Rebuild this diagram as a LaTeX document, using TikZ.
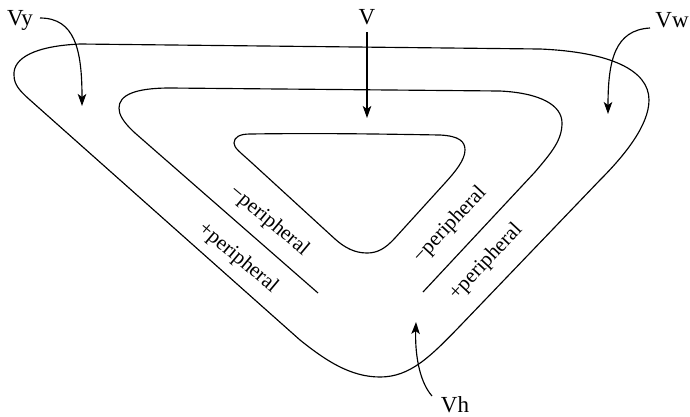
\documentclass[tikz,border=0pt]{standalone}
\usepackage{fontspec}
\setmainfont{Liberation Serif}
\usetikzlibrary{arrows.meta}
\begin{document}
\begin{tikzpicture}[x=1pt,y=-1pt,
  curve/.style={line width=1.15pt, line join=round},
  pointer/.style={line width=1.15pt, -{Stealth[length=12pt,width=8.5pt,inset=3pt]}},
  lbl/.style={font=\fontsize{23}{26}\selectfont, inner sep=0pt, anchor=base},
  side/.style={font=\fontsize{21}{24}\selectfont, inner sep=0pt}]
\useasboundingbox (0,0) rectangle (690,416);
% outer closed curve
\draw[curve] (14,75) .. controls (13,58) and (35,46) .. (80,44)
  -- (540,49)
  .. controls (610,52) and (649,70) .. (649,100)
  .. controls (649,125) and (625,155) .. (600,180)
  -- (460,326)
  .. controls (430,357) and (410,377) .. (380,377)
  .. controls (350,377) and (325,360) .. (300,340)
  -- (30,100)
  .. controls (20,91) and (14,85) .. (14,75) -- cycle;
% middle open curve
\draw[curve] (318,293) -- (135,133)
  .. controls (122,121) and (119,114) .. (119,108)
  .. controls (119,95) and (135,88) .. (170,88)
  -- (500,91)
  .. controls (540,93) and (562,105) .. (562,123)
  .. controls (562,140) and (552,152) .. (535,172)
  -- (423,292);
% inner closed curve
\draw[curve] (250,134) .. controls (320,133) and (380,134) .. (440,135)
  .. controls (460,136) and (465,142) .. (465,150)
  .. controls (465,160) and (455,172) .. (445,183)
  -- (395,238)
  .. controls (385,249) and (377,253) .. (367,253)
  .. controls (355,253) and (345,248) .. (335,239)
  -- (252,163)
  .. controls (240,152) and (234,148) .. (234,143)
  .. controls (234,137) and (240,134) .. (250,134) -- cycle;
% labels
\node[lbl] (vy) at (20,25) {Vy};
\node[lbl] (v) at (367,24) {V};
\node[lbl] (vw) at (672,27) {Vw};
\node[lbl] (vh) at (455,412) {Vh};
\coordinate (vyS) at (40,18);
\coordinate (vyE) at (82,106);
\coordinate (vS) at (367,32);
\coordinate (vE) at (367,118);
\coordinate (vwS) at (650,28);
\coordinate (vwE) at (608,114);
\coordinate (vhS) at (432,396);
\coordinate (vhE) at (416,322);
\draw[pointer] (vyS) .. controls (75,18) and (82,50) .. (vyE);
\draw[pointer] (vS) -- (vE);
\draw[pointer] (vwS) .. controls (615,30) and (608,60) .. (vwE);
\draw[pointer] (vhS) .. controls (418,380) and (415,350) .. (vhE);
% side texts
\node[side, rotate=-40] (lm) at (269,221) {−peripheral};
\node[side, rotate=-40] (lp) at (238,258) {+peripheral};
\node[side, rotate=47] (rm) at (450,225) {−peripheral};
\node[side, rotate=47] (rp) at (486,262) {+peripheral};
\end{tikzpicture}
\end{document}
